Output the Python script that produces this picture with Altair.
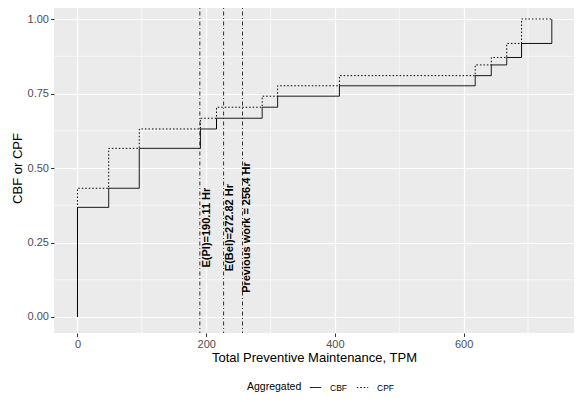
import altair as alt
import pandas as pd

# ---- data ----
cbf_tpm = [0, 0, 48.5, 96, 191, 216, 287, 311, 407, 618, 643, 667, 690, 737]
cbf_val = [0, 0.368, 0.432, 0.566, 0.631, 0.667, 0.704, 0.741, 0.776, 0.81, 0.846, 0.871, 0.918, 1.0]
cpf_tpm = [0, 0, 48.5, 96, 191, 216, 287, 311, 407, 618, 643, 667, 690, 737]
cpf_val = [0, 0.432, 0.566, 0.631, 0.667, 0.704, 0.741, 0.776, 0.81, 0.846, 0.871, 0.918, 1.0, 1.0]

vline_x = [190.11, 227, 256.4]
label_text = ["E(PI)=190.11 Hr", "E(Bel)=272.82 Hr", "Previous work = 256.4 Hr"]
label_x = [202, 237, 263]
label_y = [0.30, 0.30, 0.30]

x_major = [0, 200, 400, 600]
x_minor = [100, 300, 500, 700]
y_major = [0, 0.25, 0.5, 0.75, 1.0]
y_minor = [0.125, 0.375, 0.625, 0.875]

FONT = "Liberation Sans"

steps = pd.DataFrame(
    {
        "TPM": cbf_tpm + cpf_tpm,
        "value": cbf_val + cpf_val,
        "series": ["CBF"] * len(cbf_tpm) + ["CPF"] * len(cpf_tpm),
        "idx": list(range(len(cbf_tpm))) + list(range(len(cpf_tpm))),
    }
)
vlines = pd.DataFrame({"x": vline_x})
labels = pd.DataFrame({"x": label_x, "y": label_y, "text": label_text})
xminor = pd.DataFrame({"x": x_minor})
yminor = pd.DataFrame({"y": y_minor})

xscale = alt.Scale(domain=[-36.5, 771.5], nice=False, zero=False)
yscale = alt.Scale(domain=[-0.0537, 1.037], nice=False, zero=False)

grid_x = alt.Chart(xminor).mark_rule(color="white", strokeWidth=0.6).encode(
    x=alt.X("x:Q", scale=xscale)
)
grid_y = alt.Chart(yminor).mark_rule(color="white", strokeWidth=0.6).encode(
    y=alt.Y("y:Q", scale=yscale)
)

lines = alt.Chart(steps).mark_line(interpolate="step-after", color="black", strokeWidth=1).encode(
    x=alt.X(
        "TPM:Q",
        scale=xscale,
        axis=alt.Axis(
            values=x_major,
            format="d",
            title="Total Preventive Maintenance, TPM",
            titleX=260,
            titleY=24,
            titleBaseline="middle",
            titleAlign="center",
        ),
    ),
    y=alt.Y(
        "value:Q",
        scale=yscale,
        axis=alt.Axis(
            values=y_major,
            format=".2f",
            title="CBF or CPF",
            titleX=-37,
            titleY=160,
            titleBaseline="middle",
            titleAlign="center",
            titleAngle=270,
        ),
    ),
    strokeDash=alt.StrokeDash(
        "series:N",
        scale=alt.Scale(domain=["CBF", "CPF"], range=[[1, 0], [1.5, 2]]),
        legend=alt.Legend(
            title="Aggregated",
            orient="none",
            legendX=193,
            legendY=373,
            direction="horizontal",
            titleOrient="left",
            titleFontSize=10.5,
            titleFontWeight="normal",
            titleColor="black",
            titleFont=FONT,
            titlePadding=7,
            labelFontSize=8.5,
            labelFont=FONT,
            labelColor="black",
            labelOffset=8,
            columnPadding=7,
            symbolType="stroke",
            symbolStrokeColor="black",
            symbolStrokeWidth=1,
            symbolSize=130,
        ),
    ),
    order=alt.Order("idx:Q"),
    detail="series:N",
)

rules = alt.Chart(vlines).mark_rule(color="black", strokeWidth=0.8, strokeDash=[1, 2.5, 4, 2.5]).encode(
    x=alt.X("x:Q", scale=xscale)
)

texts = alt.Chart(labels).mark_text(
    angle=270, fontSize=11, fontWeight="bold", font=FONT, color="black", align="center", baseline="middle"
).encode(
    x=alt.X("x:Q", scale=xscale),
    y=alt.Y("y:Q", scale=yscale),
    text="text:N",
)

chart = (
    alt.layer(grid_x, grid_y, lines, rules, texts)
    .properties(
        width=520,
        height=325,
        autosize=alt.AutoSizeParams(type="none"),
        padding={"left": 46, "top": 0, "right": 0, "bottom": 61},
    )
    .configure_view(fill="#EBEBEB", strokeWidth=0)
    .configure_axis(
        grid=True,
        gridColor="white",
        gridWidth=1.2,
        domain=False,
        tickColor="#333333",
        tickSize=3.5,
        tickWidth=1,
        labelColor="#4D4D4D",
        labelFontSize=11,
        labelFont=FONT,
        labelPadding=2,
        titleFont=FONT,
        titleFontSize=13,
        titleFontWeight="normal",
        titleColor="black",
    )
)

chart.save("out.html", embed_options={"renderer": "svg", "actions": False})
